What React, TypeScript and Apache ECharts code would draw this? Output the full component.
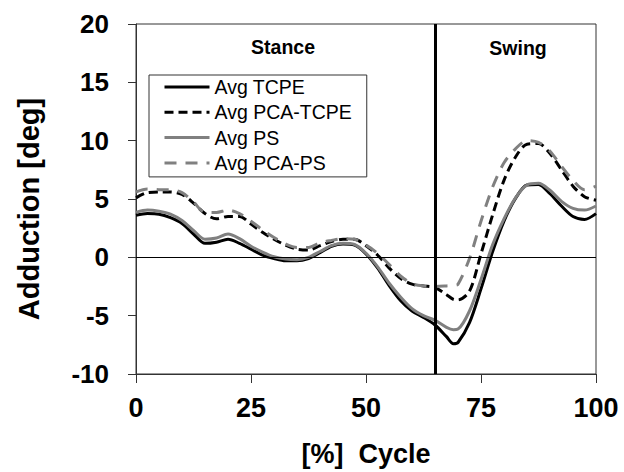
import React, { useEffect, useRef } from "react";
import * as echarts from "echarts";

const cycle = [0, 2.5, 5, 7.5, 10, 12.5, 15, 17.5, 20, 22.5, 25, 27.5, 30, 32.5, 35, 37.5, 40, 42.5, 45, 47.5, 50, 52.5, 55, 57.5, 60, 62.5, 65, 67.5, 69, 70, 72.5, 75, 77.5, 80, 82.5, 85, 87.5, 90, 92.5, 95, 97.5, 100];

const avgTCPE = [3.6, 3.75, 3.7, 3.4, 2.9, 2.0, 1.2, 1.3, 1.55, 1.2, 0.7, 0.2, -0.1, -0.3, -0.3, -0.1, 0.4, 0.95, 1.15, 1.05, 0.3, -0.9, -2.4, -3.7, -4.6, -5.15, -5.8, -6.8, -7.4, -7.3, -5.6, -2.7, 0.45, 3.1, 5.05, 6.2, 6.25, 5.45, 4.4, 3.5, 3.25, 3.75];
const avgPCATCPE = [5.1, 5.55, 5.6, 5.6, 5.4, 4.65, 3.75, 3.3, 3.5, 3.5, 2.85, 2.15, 1.55, 1.05, 0.7, 0.62, 1.0, 1.35, 1.55, 1.55, 1.0, 0.2, -0.9, -1.8, -2.3, -2.45, -2.6, -3.2, -3.6, -3.65, -2.9, 0.3, 3.6, 6.6, 8.6, 9.7, 9.75, 8.9, 7.5, 6.1, 5.2, 4.9];
const avgPS = [3.85, 4.05, 3.95, 3.7, 3.15, 2.3, 1.55, 1.65, 2.0, 1.6, 0.95, 0.45, 0.05, -0.15, -0.2, 0.0, 0.5, 1.0, 1.2, 1.1, 0.35, -0.8, -2.2, -3.4, -4.4, -5.0, -5.4, -6.0, -6.2, -6.15, -4.6, -1.9, 1.05, 3.3, 5.1, 6.2, 6.35, 5.75, 4.8, 4.2, 4.05, 4.4];
const avgPCAPS = [5.6, 5.85, 5.8, 5.8, 5.55, 4.75, 3.85, 3.85, 4.05, 3.75, 3.1, 2.35, 1.7, 1.15, 0.85, 0.85, 1.25, 1.45, 1.6, 1.55, 1.05, 0.35, -0.6, -1.6, -2.25, -2.45, -2.5, -2.45, -2.4, -2.3, -0.1, 3.1, 6.0, 8.1, 9.3, 10.0, 9.85, 9.1, 7.8, 6.6, 5.8, 6.1];

const seriesNames = ["Avg TCPE", "Avg PCA-TCPE", "Avg PS", "Avg PCA-PS"];
const yTicks = { min: -10, max: 20, interval: 5 };
const xTicks = { min: 0, max: 100, interval: 25 };
const phaseBoundary = 65;
const phaseLabels = ["Stance", "Swing"];
const yTitle = "Adduction [deg]";
const xTitle = "[%]  Cycle";

const FONT = "'Liberation Sans', Arial, sans-serif";

export default function App() {
  const ref = useRef<HTMLDivElement>(null);
  useEffect(() => {
    document.body.style.margin = "0";
    if (!ref.current) return;
    const chart = echarts.init(ref.current, null, { renderer: "svg" });
    const pairs = (vals: number[]) => cycle.map((c, i) => [c, vals[i]]);
    const mkSeries = (name: string, vals: number[], color: string, type: any, extra: any = {}) => ({
      name,
      type: "line",
      data: pairs(vals),
      smooth: 0.3,
      symbol: "none",
      showSymbol: false,
      lineStyle: { color, width: 3, type },
      itemStyle: { color },
      ...extra,
    });
    chart.setOption({
      animation: false,
      textStyle: { fontFamily: FONT },
      grid: {
        left: 136,
        right: 28,
        top: 24,
        bottom: 97,
        show: true,
        borderColor: "#333",
        borderWidth: 1,
        backgroundColor: "transparent",
      },
      legend: {
        orient: "vertical",
        left: 149,
        top: 75,
        data: seriesNames,
        itemWidth: 45,
        itemHeight: 20,
        itemGap: 5.3,
        padding: [2, 15, 4, 14],
        backgroundColor: "#fff",
        borderColor: "#333",
        borderWidth: 1,
        borderRadius: 0,
        itemStyle: { opacity: 0 },
        lineStyle: { width: 3 },
        textStyle: { fontSize: 19.5, color: "#000", fontFamily: FONT, lineHeight: 20 },
      },
      xAxis: {
        type: "value",
        min: xTicks.min,
        max: xTicks.max,
        interval: xTicks.interval,
        name: xTitle,
        nameLocation: "middle",
        nameGap: 66,
        nameTextStyle: { fontSize: 27, fontWeight: "bold", color: "#000", fontFamily: FONT },
        axisLine: { show: true, onZero: false, lineStyle: { color: "#333", width: 1 } },
        axisTick: { show: true, length: 9, lineStyle: { color: "#333" } },
        axisLabel: { fontSize: 27, fontWeight: "bold", color: "#000", margin: 20, fontFamily: FONT },
        splitLine: { show: false },
      },
      yAxis: {
        type: "value",
        min: yTicks.min,
        max: yTicks.max,
        interval: yTicks.interval,
        axisLine: { show: true, lineStyle: { color: "#333", width: 1 } },
        axisTick: { show: true, length: 8, lineStyle: { color: "#333" } },
        axisLabel: { fontSize: 26, fontWeight: "bold", color: "#000", margin: 27, fontFamily: FONT },
        splitLine: { show: false },
      },
      graphic: [
        {
          type: "text",
          x: 283,
          y: 47,
          style: { text: phaseLabels[0], fontSize: 19.5, fontWeight: "bold", fill: "#000", fontFamily: FONT, textAlign: "center", textVerticalAlign: "middle" },
        },
        {
          type: "text",
          x: 518,
          y: 48,
          style: { text: phaseLabels[1], fontSize: 19.5, fontWeight: "bold", fill: "#000", fontFamily: FONT, textAlign: "center", textVerticalAlign: "middle" },
        },
        {
          type: "text",
          x: 29,
          y: 209,
          rotation: Math.PI / 2,
          style: { text: yTitle, fontSize: 29, fontWeight: "bold", fill: "#000", fontFamily: FONT, textAlign: "center", textVerticalAlign: "middle" },
        },
      ],
      series: [
        mkSeries(seriesNames[0], avgTCPE, "#000", "solid", {
          markLine: {
            silent: true,
            symbol: "none",
            label: { show: false },
            data: [
              { yAxis: 0, lineStyle: { color: "#000", width: 1, type: "solid" } },
              { xAxis: phaseBoundary, lineStyle: { color: "#000", width: 3, type: "solid" } },
            ],
          },
        }),
        mkSeries(seriesNames[1], avgPCATCPE, "#000", [9, 5]),
        mkSeries(seriesNames[2], avgPS, "#808080", "solid"),
        mkSeries(seriesNames[3], avgPCAPS, "#808080", [12, 9]),
      ],
    });
    return () => chart.dispose();
  }, []);
  return <div ref={ref} style={{ width: 624, height: 472 }} />;
}
